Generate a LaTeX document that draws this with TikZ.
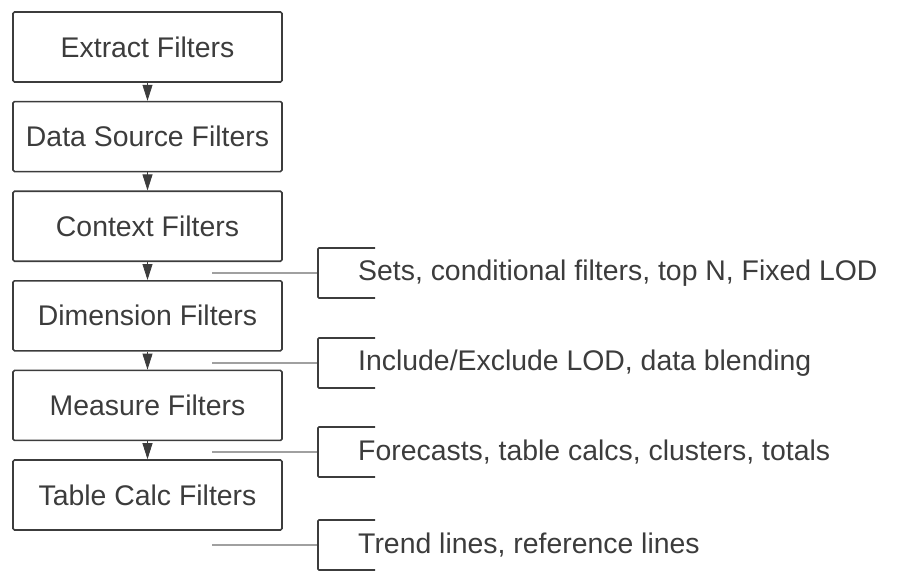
\documentclass[tikz,border=0pt]{standalone}
\usepackage{fontspec}
\setmainfont{Liberation Sans}
\usetikzlibrary{arrows.meta}
\definecolor{ink}{HTML}{3C3C3C}
\definecolor{rule}{HTML}{A0A0A0}
\tikzset{
  filterbox/.style={draw=ink, line width=1.6pt, rounded corners=1.5pt,
    minimum width=269pt, minimum height=70pt, inner sep=0pt,
    text=ink, font=\fontsize{28.4}{32}\selectfont},
  effect/.style={anchor=west, text=ink, inner sep=0pt,
    font=\fontsize{28.4}{32}\selectfont},
  flow/.style={draw=ink, line width=0.8pt,
    -{Triangle[width=10pt,length=16pt]}},
}
\begin{document}
\begin{tikzpicture}[x=1pt, y=-1pt]
  \useasboundingbox (0,0) rectangle (899,573);

  % filter order
  \foreach \i/\name in {1/Extract Filters,2/Data Source Filters,
    3/Context Filters,4/Dimension Filters,5/Measure Filters,
    6/Table Calc Filters}
    \node[filterbox] (f\i) at (147.5, {47+89.6*(\i-1)}) {\name};

  \foreach \i [evaluate=\i as \j using int(\i+1)] in {1,...,5}
    \draw[flow] (f\i.south) -- (f\j.north);

  % what is computed in between
  \foreach \i/\y/\what in {1/273/{Sets, conditional filters, top N, Fixed LOD},
    2/363/{Include/Exclude LOD, data blending},
    3/452/{Forecasts, table calcs, clusters, totals},
    4/545/{Trend lines, reference lines}}
  {
    \coordinate (s\i) at (212,\y);
    \coordinate (k\i) at (318,\y);
    \node[effect] (e\i) at (358,\y) {\what};
    \draw[rule, line width=1.2pt] (s\i) -- (k\i);
    \draw[ink, line width=1.6pt, rounded corners=1pt]
      ([xshift=57pt, yshift=25pt]k\i) -- ([yshift=25pt]k\i)
      -- ([yshift=-25pt]k\i) -- ([xshift=57pt, yshift=-25pt]k\i);
  }

\end{tikzpicture}
\end{document}
